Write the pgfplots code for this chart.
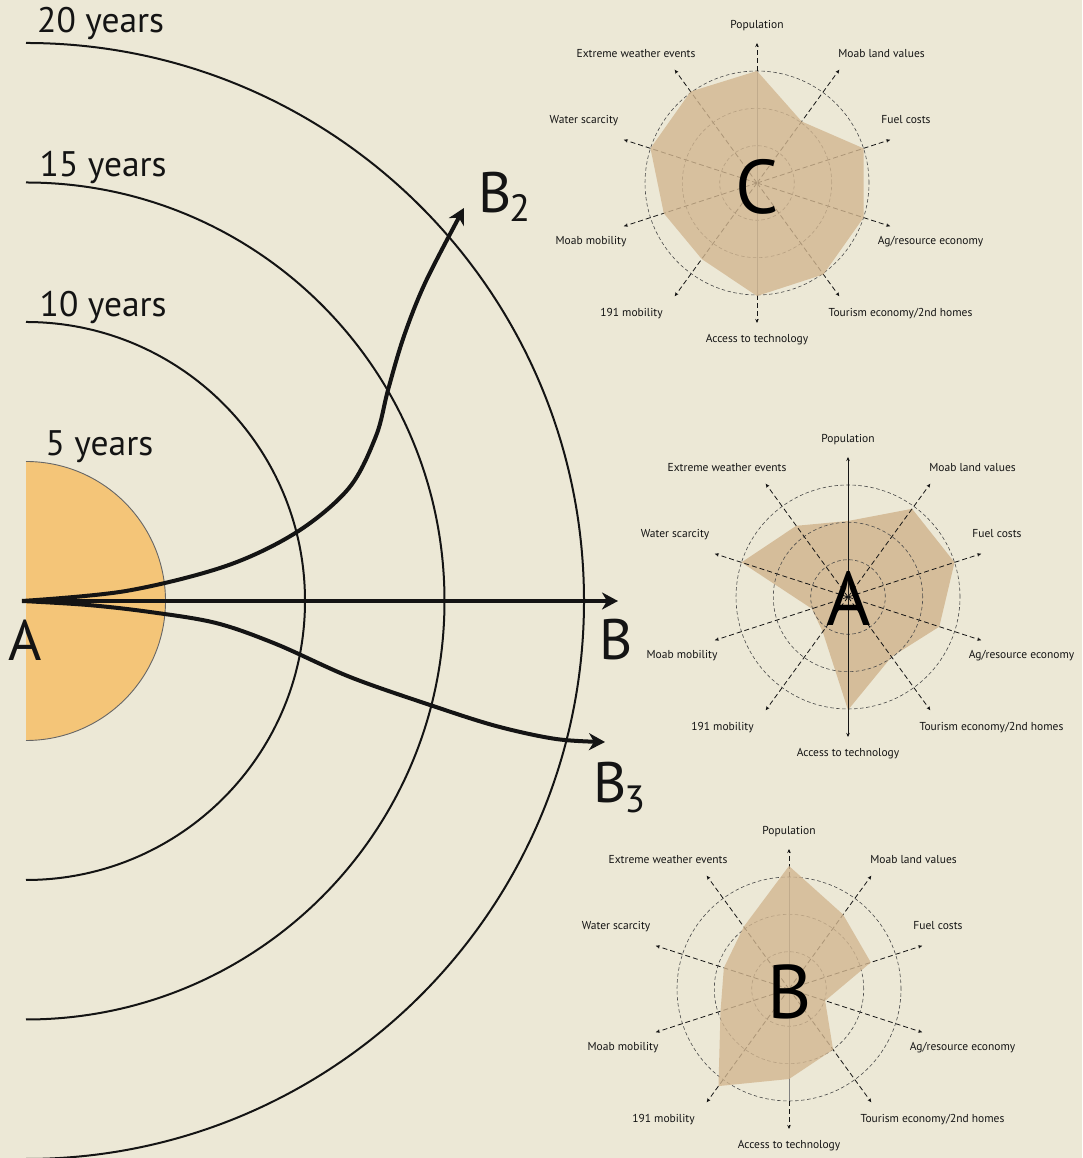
\documentclass[border=0pt]{standalone}
\usepackage{pgfplots}
\pgfplotsset{compat=1.18}
\usepackage{fontspec}
\setmainfont{PT Sans}
\usetikzlibrary{arrows.meta}
\definecolor{bgc}{HTML}{ECE8D6}
\definecolor{orangefill}{HTML}{F4C578}
\definecolor{radarfill}{HTML}{D2B690}
\definecolor{ink}{HTML}{141414}
\definecolor{circc}{HTML}{4A4A4A}

\pgfplotsset{
  radar/.style={x=1pt,y=1pt,xmin=-140,xmax=140,ymin=-140,ymax=140,hide axis,clip=false,anchor=center},
  spoke/.style={data cs=polar, ink, line width=0.8pt, dash pattern=on 5pt off 3pt, -{Stealth[length=4pt,width=3.5pt]}},
}
\tikzset{
  circ/.style={circc, line width=0.6pt, dash pattern=on 3.5pt off 2.5pt},
  lbl/.style={font=\fontsize{11.5}{12}\selectfont, text=ink, inner sep=0pt},
  bigletter/.style={font=\fontsize{76}{76}\selectfont, text=black, inner sep=0pt},
  years/.style={font=\fontsize{35.5}{35.5}\selectfont, text=ink, inner sep=0pt, anchor=base west},
  abc/.style={font=\fontsize{57}{57}\selectfont, text=ink, inner sep=0pt},
  bigarrow/.style={ink, line width=4pt, -{Stealth[length=16pt,width=17pt,inset=5pt]}},
}
\newcommand{\subnum}[2]{\kern-2pt\raisebox{-#1}{\fontsize{38}{38}\selectfont #2}}
\newcommand{\radarcircles}{%
  \draw[circ] (axis cs:0,0) circle[radius=37.3pt];
  \draw[circ] (axis cs:0,0) circle[radius=74.7pt];
  \draw[circ] (axis cs:0,0) circle[radius=112pt];
}
\newcommand{\radarspokes}{%
  \addplot[spoke] coordinates {(90,0) (90,140)};
  \addplot[spoke] coordinates {(54,0) (54,140)};
  \addplot[spoke] coordinates {(18,0) (18,140)};
  \addplot[spoke] coordinates {(-18,0) (-18,140)};
  \addplot[spoke] coordinates {(-54,0) (-54,140)};
  \addplot[spoke] coordinates {(-90,0) (-90,140)};
  \addplot[spoke] coordinates {(-126,0) (-126,140)};
  \addplot[spoke] coordinates {(-162,0) (-162,140)};
  \addplot[spoke] coordinates {(162,0) (162,140)};
  \addplot[spoke] coordinates {(126,0) (126,140)};
}
\newcommand{\radarlabels}{%
  \node[lbl] at (axis cs:0,157) {Population};
  \node[lbl] at (axis cs:124.5,129) {Moab land values};
  \node[lbl] at (axis cs:149,63) {Fuel costs};
  \node[lbl] at (axis cs:173.5,-58.5) {Ag/resource economy};
  \node[lbl] at (axis cs:143.5,-130.5) {Tourism economy/2nd homes};
  \node[lbl] at (axis cs:0,-157) {Access to technology};
  \node[lbl] at (axis cs:-125.5,-130.5) {191 mobility};
  \node[lbl] at (axis cs:-166,-58.5) {Moab mobility};
  \node[lbl] at (axis cs:-173,62.5) {Water scarcity};
  \node[lbl] at (axis cs:-121,129) {Extreme weather events};
}

\begin{document}
\begin{tikzpicture}
\fill[bgc] (0,0) rectangle (1082pt,1158pt);

% ---------------- left diagram: time horizons ----------------
\begin{axis}[x=1pt,y=1pt,xmin=-26,xmax=1056,ymin=-557,ymax=601,
  hide axis, clip=false, at={(0,0)}, anchor=south west]
  \fill[orangefill] (axis cs:0,139.5) arc[start angle=90,end angle=-90,radius=139.5pt] -- cycle;
  \draw[gray!80!black, line width=0.9pt] (axis cs:0,139.5) arc[start angle=90,end angle=-90,radius=139.5pt];
  \draw[ink, line width=2pt] (axis cs:0,279) arc[start angle=90,end angle=-90,radius=279pt];
  \draw[ink, line width=2pt] (axis cs:0,418.5) arc[start angle=90,end angle=-90,radius=418.5pt];
  \draw[ink, line width=2pt] (axis cs:0,558) arc[start angle=90,end angle=-90,radius=558pt];

  \node[years] at (axis cs:11,568) {20 years};
  \node[years] at (axis cs:13.5,424.3) {15 years};
  \node[years] at (axis cs:13.5,284.3) {10 years};
  \node[years] at (axis cs:19.5,145) {5 years};

  % paths A -> B, B2, B3
  \addplot[bigarrow] coordinates {(-4,0) (592,0)};
  \addplot[bigarrow, smooth, tension=0.55] coordinates {(-4,0) (100,10) (200,35) (271,69) (323,113) (350,165) (362,211) (378,265) (400,320) (438,393)};
  \addplot[bigarrow, smooth, tension=0.55] coordinates {(-4,0) (62,-4) (124,-11) (190,-22) (250,-43) (324,-76) (404,-104) (470,-125) (530,-138) (579,-141)};

  \node[abc] at (axis cs:-1,-39) {A};
  \node[abc] at (axis cs:590,-39) {B};
  \node[abc, anchor=base west] at (axis cs:452,388) {B\subnum{9pt}{2}};
  \node[abc, anchor=base west] at (axis cs:567,-202) {B\subnum{10pt}{3}};
\end{axis}

% ---------------- radar C ----------------
\begin{axis}[radar, at={(757pt,975pt)}]
  \radarcircles
  \radarspokes
  \draw[gray, line width=0.7pt] (axis cs:0,-112) -- (axis cs:0,112);
  \addplot[data cs=polar, draw=none, fill=radarfill, fill opacity=0.8] coordinates {(90,112) (54,76) (18,112) (-18,112) (-54,113) (-90,113) (-126,94) (-162,98) (162,112) (126,113) (90,112)};
  \radarlabels
  \node[bigletter] at (axis cs:0,-3.5) {C};
\end{axis}

% ---------------- radar A ----------------
\begin{axis}[radar, at={(848pt,561pt)}]
  \addplot[data cs=polar, draw=none, fill=radarfill, fill opacity=0.85] coordinates {(90,76) (54,109) (18,112) (-18,96) (-54,74) (-90,113) (-126,43) (-162,38) (162,112) (126,88) (90,76)};
  \radarcircles
  \radarspokes
  \draw[ink, line width=0.9pt] (axis cs:0,-138) -- (axis cs:0,138);
  \radarlabels
  \node[bigletter] at (axis cs:0.5,-1) {A};
\end{axis}

% ---------------- radar B ----------------
\begin{axis}[radar, at={(789pt,169pt)}]
  \radarcircles
  \radarspokes
  \draw[gray, line width=0.7pt] (axis cs:0,-112) -- (axis cs:0,112);
  \addplot[data cs=polar, draw=none, fill=radarfill, fill opacity=0.8] coordinates {(90,123) (54,92) (18,86) (-18,38) (-54,75) (-90,90) (-126,120) (-162,72) (162,68.5) (126,77) (90,123)};
  \radarlabels
  \node[bigletter] at (axis cs:0.5,-2.5) {B};
\end{axis}

\pgfresetboundingbox
\path[use as bounding box] (0,0) rectangle (1082pt,1158pt);
\end{tikzpicture}
\end{document}
